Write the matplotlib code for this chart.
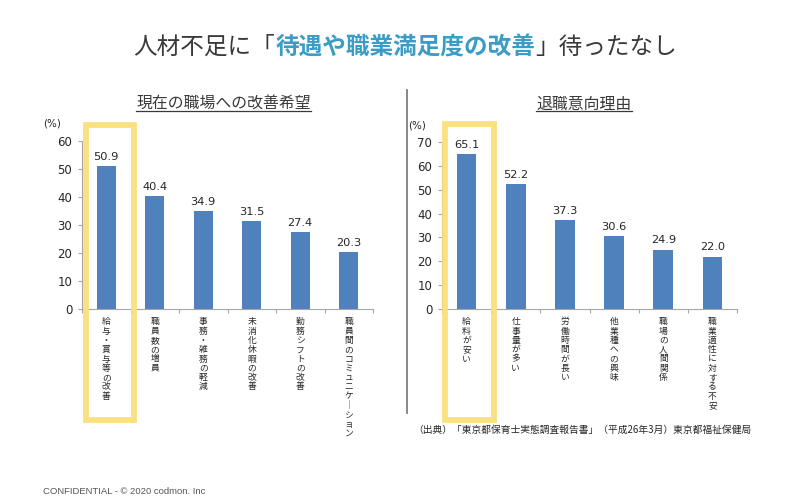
import matplotlib
matplotlib.use('Agg')
import matplotlib.pyplot as plt
from matplotlib.patches import Rectangle
from matplotlib.lines import Line2D

plt.rcParams['font.family'] = ['Noto Sans CJK JP', 'DejaVu Sans']

# ---------------- data ----------------
title_parts = ["人材不足に「", "待遇や職業満足度の改善", "」待ったなし"]

left_title = "現在の職場への改善希望"
left_categories = ["給与・賞与等の改善", "職員数の増員", "事務・雑務の軽減",
                   "未消化休暇の改善", "勤務シフトの改善", "職員間のコミュニケーション"]
left_values = [50.9, 40.4, 34.9, 31.5, 27.4, 20.3]
left_yticks = [0, 10, 20, 30, 40, 50, 60]

right_title = "退職意向理由"
right_categories = ["給料が安い", "仕事量が多い", "労働時間が長い",
                    "他業種への興味", "職場の人間関係", "職業適性に対する不安"]
right_values = [65.1, 52.2, 37.3, 30.6, 24.9, 22.0]
right_yticks = [0, 10, 20, 30, 40, 50, 60, 70]

highlight_index = 0
unit_label = "(%)"
source_text = "（出典）「東京都保育士実態調査報告書」（平成26年3月）東京都福祉保健局"
footer_text = "CONFIDENTIAL - © 2020 codmon. Inc"

# ---------------- style ----------------
W, H = 800, 503
BAR_COLOR = "#4F81BD"
BOX_COLOR = "#FBE07E"
AXIS_COLOR = "#A6A6A6"
TEXT_DARK = "#262626"
TITLE_GRAY = "#3A3A3A"
TITLE_BLUE = "#3B9CC6"
LABEL_FS = 6.3
LABEL_BASE = 11.0   # points below axis to first character baseline
LABEL_STEP = 6.7    # points between stacked characters

fig = plt.figure(figsize=(W / 100, H / 100), dpi=100)
fig.patch.set_facecolor("white")


def px_rect(x0, y_top, x1, y_bot):
    return [x0 / W, 1 - y_bot / H, (x1 - x0) / W, (y_bot - y_top) / H]


def vertical_chars(label):
    return ["｜" if c == "ー" else c for c in label]


def draw_panel(ax, cats, vals, yticks, box_x, box_y):
    n = len(cats)
    x = list(range(n))
    ax.bar(x, vals, width=0.4, color=BAR_COLOR, zorder=2)
    ax.set_xlim(-0.5, n - 0.5)
    ax.set_ylim(yticks[0], yticks[-1])
    ax.set_yticks(yticks)
    ax.set_yticklabels([str(t) for t in yticks], family="DejaVu Sans",
                       fontsize=8.5, color=TEXT_DARK)
    ax.set_xticks([i - 0.5 for i in range(n + 1)])
    ax.set_xticklabels([])
    ax.tick_params(axis="x", length=3, color=AXIS_COLOR, width=0.8)
    ax.tick_params(axis="y", length=3, color=AXIS_COLOR, width=0.8, pad=4)
    for s in ["top", "right"]:
        ax.spines[s].set_visible(False)
    for s in ["left", "bottom"]:
        ax.spines[s].set_color(AXIS_COLOR)
        ax.spines[s].set_linewidth(0.8)
    # vertical (stacked) category labels
    for xi, cat in zip(x, cats):
        for k, ch in enumerate(vertical_chars(cat)):
            ax.annotate(ch, (xi, 0), xycoords=("data", "axes fraction"),
                        xytext=(0, -LABEL_BASE - k * LABEL_STEP),
                        textcoords="offset points", ha="center", va="baseline",
                        fontsize=LABEL_FS, color=TEXT_DARK, annotation_clip=False)
    for xi, v in zip(x, vals):
        ax.annotate(f"{v:.1f}", (xi, v), xytext=(0, 3), textcoords="offset points",
                    ha="center", va="bottom", family="DejaVu Sans",
                    fontsize=8.2, color=TEXT_DARK)
    # highlight box around the first category
    tr = ax.get_xaxis_transform()
    rect = Rectangle((highlight_index + box_x[0], box_y[0]),
                     box_x[1] - box_x[0], box_y[1] - box_y[0],
                     transform=tr, fill=False, edgecolor=BOX_COLOR,
                     linewidth=4.1, clip_on=False, zorder=3)
    ax.add_patch(rect)


ax1 = fig.add_axes(px_rect(82, 141, 373, 309))
draw_panel(ax1, left_categories, left_values, left_yticks,
           (-0.418, 0.562), (-0.658, 1.098))
ax2 = fig.add_axes(px_rect(442, 142, 737, 309))
draw_panel(ax2, right_categories, right_values, right_yticks,
           (-0.429, 0.557), (-0.662, 1.105))

# unit labels
fig.text(43 / W, 1 - 124 / H, unit_label, family="DejaVu Sans", fontsize=7.4,
         color=TEXT_DARK, ha="left", va="center")
fig.text(408 / W, 1 - 126 / H, unit_label, family="DejaVu Sans", fontsize=7.4,
         color=TEXT_DARK, ha="left", va="center")

# divider line
fig.add_artist(Line2D([406.7 / W, 406.7 / W], [1 - 90 / H, 1 - 413 / H],
                      color="#7F7F7F", linewidth=1.3))

# subtitles with underline
sub1 = fig.text(223.5 / W, 1 - 104 / H, left_title, fontsize=11.4,
                color=TITLE_GRAY, ha="center", va="center")
sub2 = fig.text(584 / W, 1 - 104 / H, right_title, fontsize=11.4,
                color=TITLE_GRAY, ha="center", va="center")

# source / footer
fig.text(413 / W, 1 - 430 / H, source_text, fontsize=7, color=TEXT_DARK,
         ha="left", va="center")
fig.text(43 / W, 1 - 492 / H, footer_text, family=["Liberation Sans", "DejaVu Sans"],
         fontsize=6.8, color="#555555", ha="left", va="center")

# title parts (mixed colours)
fig.canvas.draw()
renderer = fig.canvas.get_renderer()
styles = [dict(color=TITLE_GRAY), dict(color=TITLE_BLUE, weight="bold"),
          dict(color=TITLE_GRAY)]
parts = [fig.text(0, 1 - 47 / H, p, fontsize=17, ha="left", va="center", **st)
         for p, st in zip(title_parts, styles)]
widths = [p.get_window_extent(renderer).width for p in parts]
x = 405 - sum(widths) / 2
for p, w in zip(parts, widths):
    p.set_x(x / W)
    x += w

for s in (sub1, sub2):
    bb = s.get_window_extent(renderer)
    fig.add_artist(Line2D([bb.x0 / W, bb.x1 / W], [1 - 110.7 / H] * 2,
                          color=TITLE_GRAY, linewidth=0.9))

fig.savefig("out.png", dpi=100, facecolor="white")
